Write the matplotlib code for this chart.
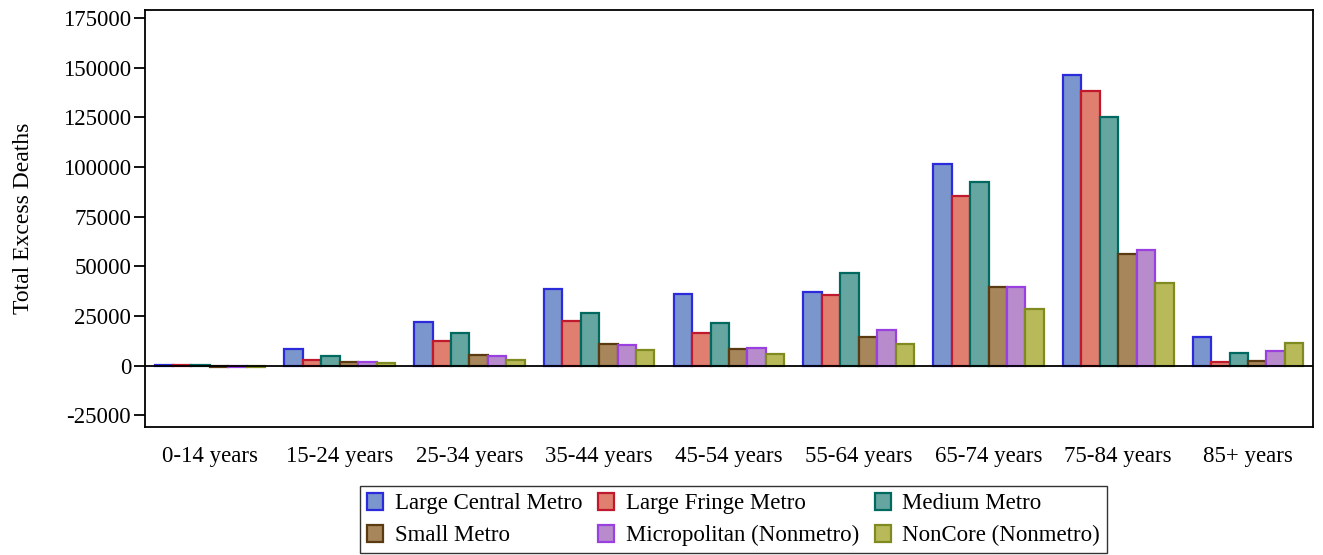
# grouped bars: excess deaths by age group and urbanization level
import matplotlib.pyplot as plt
import numpy as np

plt.rcParams['font.family'] = ['Liberation Serif', 'DejaVu Serif']
plt.rcParams['axes.unicode_minus'] = False

age_groups = ['0-14 years', '15-24 years', '25-34 years', '35-44 years', '45-54 years',
              '55-64 years', '65-74 years', '75-84 years', '85+ years']

large_central = [300, 8200, 22100, 38600, 36200, 37000, 101300, 146200, 14700]
large_fringe = [300, 2800, 12500, 22600, 16400, 35700, 85200, 138300, 1700]
medium_metro = [300, 4800, 16600, 26500, 21500, 46600, 92600, 125200, 6200]
small_metro = [-500, 1800, 5300, 11000, 8600, 14700, 39700, 56000, 2500]
micropolitan = [-700, 1800, 4700, 10600, 8900, 17800, 39400, 58000, 7200]
noncore = [-500, 1500, 2700, 7700, 6000, 10900, 28800, 41400, 11700]

series = [
    ('Large Central Metro', large_central, '#7b96cc', '#2b2bdc'),
    ('Large Fringe Metro', large_fringe, '#e07f6f', '#c0182c'),
    ('Medium Metro', medium_metro, '#66a6a0', '#006a60'),
    ('Small Metro', small_metro, '#a8865c', '#5a3a10'),
    ('Micropolitan (Nonmetro)', micropolitan, '#b88ccc', '#9a40e0'),
    ('NonCore (Nonmetro)', noncore, '#b8ba5a', '#7f8a20'),
]

fig = plt.figure(figsize=(13.23, 5.55), dpi=100)
ax = fig.add_axes([0.1096, 0.231, 0.8828, 0.751])

index = np.arange(len(age_groups))
bar_width = 0.142

handles = []
for i, (name, vals, fill, edge) in enumerate(series):
    h = ax.bar(index + (i - 2.5) * bar_width, vals, bar_width,
               color=fill, edgecolor=edge, linewidth=1.6, label=name, zorder=2)
    handles.append(h)

ax.axhline(0, color='black', linewidth=1.3, zorder=3)

ax.set_xlim(-0.5, len(age_groups) - 0.5)
ax.set_ylim(-30700, 179000)
ax.set_yticks(np.arange(-25000, 175001, 25000))
ax.set_xticks(index)
ax.set_xticklabels(age_groups, fontsize=16.5)
ax.tick_params(axis='x', length=0, pad=14)
ax.tick_params(axis='y', labelsize=16.5, length=8, width=1.3, direction='out', pad=2)
ax.set_ylabel('Total Excess Deaths', fontsize=17, labelpad=21)
for sp in ax.spines.values():
    sp.set_linewidth(1.3)

# legend fills rows first in the reference, matplotlib fills columns -> reorder
order = [0, 3, 1, 4, 2, 5]
fig.legend([handles[k] for k in order], [series[k][0] for k in order],
           loc='lower center', bbox_to_anchor=(0.5545, 0.003), ncol=3,
           fontsize=16.5, frameon=True, fancybox=False, edgecolor='black',
           handlelength=0.7, handleheight=0.8, handletextpad=0.5,
           columnspacing=0.7, borderpad=0.3, labelspacing=0.45, borderaxespad=0)

fig.savefig('out.png', dpi=100)
